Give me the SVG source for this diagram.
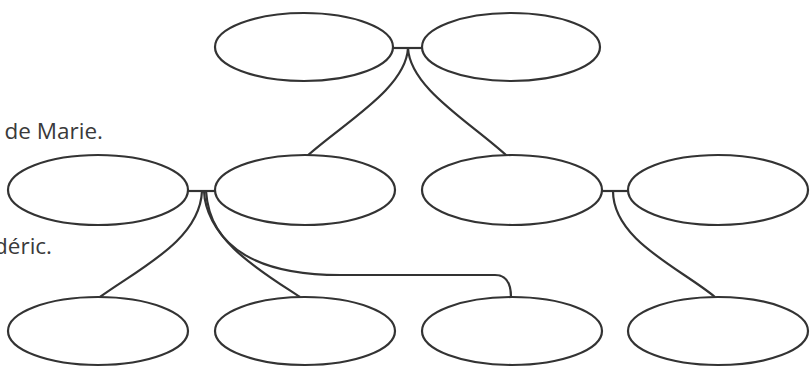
<svg xmlns="http://www.w3.org/2000/svg" width="810" height="367" viewBox="0 0 810 367">
<style>
.n{fill:#fff;stroke:#333;stroke-width:2.2}
.c{fill:none;stroke:#333;stroke-width:2.2}
.t{font-family:"Open Sans","Noto Sans",sans-serif;font-size:22.5px;fill:#3a3a3a;text-anchor:end}
</style>
<rect width="810" height="367" fill="#fff"/>
<text class="t" x="103" y="139">de Marie.</text>
<text class="t" x="52" y="254">déric.</text>
<g id="connectors">
<line class="c" x1="393" y1="48" x2="422" y2="48"/>
<path class="c" d="M408,48 C406,88 345,122 307,156"/>
<path class="c" d="M408,48 C410,88 470,122 507,156"/>
<line class="c" x1="188" y1="191" x2="215" y2="191"/>
<line class="c" x1="602" y1="191" x2="628" y2="191"/>
<path class="c" d="M202,191 C200,240 140,268 100,297"/>
<path class="c" d="M204,191 C206,240 262,272 300,297"/>
<path class="c" d="M206,191 C210,250 262,275 340,275 L495,275 C508,275 511,285 511,297"/>
<path class="c" d="M613,191 C613,240 680,268 715,297"/>
</g>
<g id="n1"><ellipse class="n" cx="304" cy="47" rx="89" ry="34"/></g>
<g id="n2"><ellipse class="n" cx="511" cy="47" rx="89" ry="34"/></g>
<g id="n3"><ellipse class="n" cx="98" cy="190" rx="90" ry="35"/></g>
<g id="n4"><ellipse class="n" cx="305" cy="190" rx="90" ry="35"/></g>
<g id="n5"><ellipse class="n" cx="512" cy="190" rx="90" ry="35"/></g>
<g id="n6"><ellipse class="n" cx="718" cy="190" rx="90" ry="35"/></g>
<g id="n7"><ellipse class="n" cx="98" cy="331" rx="90" ry="34"/></g>
<g id="n8"><ellipse class="n" cx="305" cy="331" rx="90" ry="34"/></g>
<g id="n9"><ellipse class="n" cx="512" cy="331" rx="90" ry="34"/></g>
<g id="n10"><ellipse class="n" cx="718" cy="331" rx="90" ry="34"/></g>
</svg>
